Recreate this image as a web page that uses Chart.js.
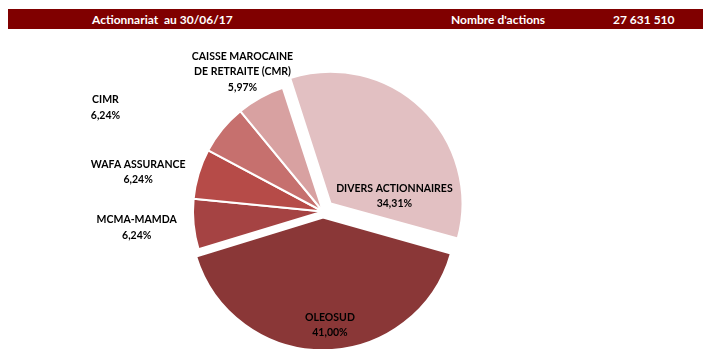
<!DOCTYPE html>
<html lang="fr">
<head>
    <meta charset="UTF-8">
    <title>Actionnariat au 30/06/17</title>
    <script src="https://cdn.jsdelivr.net/npm/chart.js"></script>
    <style>
        body { margin: 0; background: #fff; width: 710px; height: 349px; position: relative; overflow: hidden; }
        #header { position: absolute; left: 8px; top: 9px; width: 695px; height: 20px; background: #800000;
                  color: #fff; font: bold 12px Lato, sans-serif; }
        #header span { position: absolute; top: 3px; white-space: pre; }
        #wrap { position: absolute; left: 0; top: 0; width: 710px; height: 349px; }
    </style>
</head>
<body>
    <div id="wrap"><canvas id="pie"></canvas></div>
    <div id="header">
        <span style="left:84px">Actionnariat  au 30/06/17</span>
        <span style="left:443px">Nombre d'actions</span>
        <span style="left:605px">27 631 510</span>
    </div>

    <script>
        // data
        const categories = ['DIVERS ACTIONNAIRES', 'OLEOSUD', 'MCMA-MAMDA', 'WAFA ASSURANCE', 'CIMR', 'CAISSE MAROCAINE\nDE RETRAITE (CMR)'];
        const shares = [34.31, 41.00, 6.24, 6.24, 6.24, 5.97];
        const colors = ['#E2C0C2', '#8A3737', '#A54343', '#B64B48', '#C6706E', '#D8A1A1'];
        const explode = [11, 6, 0, 0, 0, 0]; // px the slice is pulled out

        // label placement: angle (deg, clockwise from top) and distance from pie centre
        const labelAngle = [78, 176.5, 265, 282, 295.5, 330];
        const labelDist = [73, 114, 187, 189, 241, 161];

        const fmt = v => v.toFixed(2).replace('.', ',') + '%';

        const labelPlugin = {
            id: 'sliceLabels',
            afterDatasetsDraw(chart) {
                const ctx = chart.ctx;
                const arc0 = chart.getDatasetMeta(0).data[0];
                const cx = arc0.x, cy = arc0.y;
                ctx.save();
                ctx.font = 'bold 10.5px Lato, sans-serif';
                ctx.fillStyle = '#000';
                ctx.textAlign = 'center';
                ctx.textBaseline = 'middle';
                categories.forEach((name, i) => {
                    const a = labelAngle[i] * Math.PI / 180;
                    const x = cx + Math.sin(a) * labelDist[i];
                    const y = cy - Math.cos(a) * labelDist[i];
                    const lines = name.split('\n').concat(fmt(shares[i]));
                    const lh = 15.5;
                    const top = y - (lines.length - 1) * lh / 2;
                    lines.forEach((t, k) => ctx.fillText(t, x, top + k * lh));
                });
                ctx.restore();
            }
        };

        new Chart(document.getElementById('pie'), {
            type: 'pie',
            data: {
                labels: categories,
                datasets: [{
                    data: shares,
                    backgroundColor: colors,
                    borderColor: '#ffffff',
                    borderWidth: 2,
                    // chart.js arcs move by offset / 4
                    offset: explode.map(v => v * 4)
                }]
            },
            options: {
                responsive: true,
                maintainAspectRatio: false,
                animation: false,
                rotation: -18,
                radius: 130,
                layout: { padding: { left: 0, right: 64, top: 74, bottom: 0 } },
                plugins: {
                    legend: { display: false },
                    tooltip: { enabled: false }
                }
            },
            plugins: [labelPlugin]
        });
    </script>
</body>
</html>
